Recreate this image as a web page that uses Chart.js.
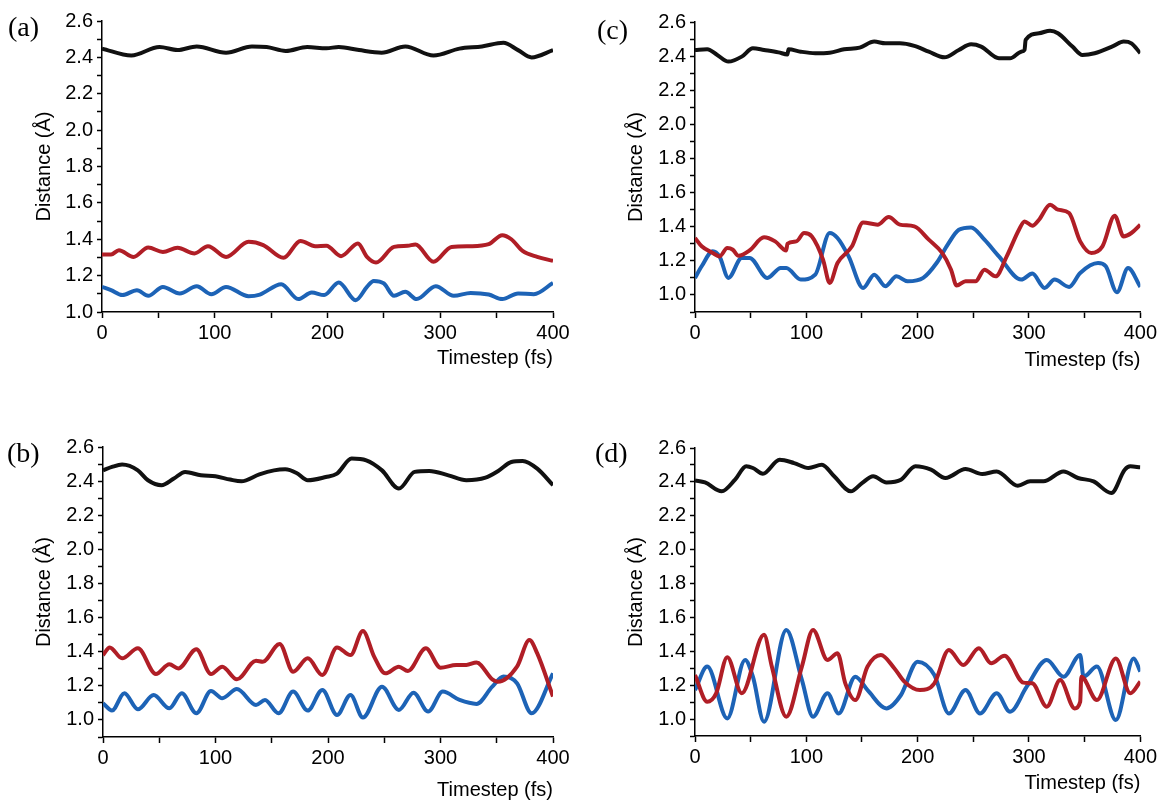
<!DOCTYPE html>
<html>
<head>
<meta charset="utf-8">
<script src="https://cdn.jsdelivr.net/npm/chart.js@4.4.1/dist/chart.umd.min.js"></script>
<style>
  body { margin: 0; background: #fff; }
  #wrap { position: relative; width: 1160px; height: 802px; background: #fff; }
  canvas { position: absolute; }
  .tag { position: absolute; font-family: "Liberation Serif", serif; font-size: 28px; line-height: 32px; color: #000; }
</style>
</head>
<body>
<div id="wrap">
  <canvas id="ga" width="580" height="400" style="left:0;top:0"></canvas>
  <canvas id="gc" width="580" height="400" style="left:580px;top:0"></canvas>
  <canvas id="gb" width="580" height="402" style="left:0;top:400px"></canvas>
  <canvas id="gd" width="580" height="402" style="left:580px;top:400px"></canvas>
  <div class="tag" style="left:8px;top:11px">(a)</div>
  <div class="tag" style="left:597px;top:14px">(c)</div>
  <div class="tag" style="left:7px;top:437px">(b)</div>
  <div class="tag" style="left:595px;top:437px">(d)</div>
</div>
<script>
// valores (tempo em fs, distância em Å)
const aBlackT = [0, 26, 51, 67, 84, 110, 133, 146, 163, 182, 199, 210, 228, 248, 269, 294, 317, 337, 356, 369, 381, 400];
const aBlackD = [2.448, 2.41, 2.457, 2.44, 2.46, 2.426, 2.46, 2.457, 2.435, 2.457, 2.45, 2.457, 2.44, 2.426, 2.46, 2.41, 2.448, 2.46, 2.48, 2.44, 2.40, 2.44];
const aRedT = [0, 8, 15, 28, 41, 54, 67, 82, 94, 110, 130, 143, 161, 176, 189, 199, 212, 227, 235, 243, 259, 271, 278, 294, 310, 327, 343, 355, 363, 373, 386, 400];
const aRedD = [1.316, 1.316, 1.34, 1.303, 1.355, 1.33, 1.353, 1.322, 1.362, 1.303, 1.386, 1.368, 1.298, 1.391, 1.362, 1.364, 1.307, 1.377, 1.303, 1.272, 1.358, 1.364, 1.371, 1.276, 1.358, 1.362, 1.373, 1.422, 1.40, 1.336, 1.303, 1.281];
const aBlueT = [0, 8, 18, 31, 41, 54, 69, 84, 97, 110, 130, 140, 159, 174, 186, 197, 210, 225, 235, 241, 250, 259, 269, 279, 296, 312, 327, 343, 355, 369, 383, 400];
const aBlueD = [1.138, 1.12, 1.093, 1.12, 1.089, 1.138, 1.102, 1.142, 1.098, 1.138, 1.087, 1.096, 1.153, 1.071, 1.107, 1.093, 1.162, 1.065, 1.138, 1.171, 1.157, 1.089, 1.111, 1.071, 1.142, 1.089, 1.105, 1.096, 1.071, 1.102, 1.098, 1.16];

const bBlackT = [0, 8, 17, 31, 40, 52, 63, 73, 87, 100, 113, 123, 139, 152, 162, 172, 182, 198, 208, 221, 234, 248, 263, 277, 290, 307, 323, 340, 351, 363, 373, 386, 400];
const bBlackD = [2.463, 2.483, 2.497, 2.463, 2.405, 2.376, 2.415, 2.454, 2.434, 2.428, 2.409, 2.399, 2.44, 2.463, 2.469, 2.448, 2.405, 2.424, 2.444, 2.532, 2.522, 2.463, 2.356, 2.454, 2.46, 2.434, 2.405, 2.42, 2.458, 2.512, 2.518, 2.473, 2.376];
const bRedT = [0, 6, 17, 31, 47, 59, 67, 83, 96, 106, 119, 136, 142, 157, 169, 182, 195, 208, 220, 231, 241, 251, 263, 271, 287, 300, 314, 323, 332, 346, 351, 368, 379, 386, 400];
const bRedD = [1.38, 1.425, 1.361, 1.42, 1.269, 1.326, 1.302, 1.414, 1.269, 1.312, 1.238, 1.347, 1.341, 1.445, 1.283, 1.361, 1.263, 1.425, 1.38, 1.521, 1.371, 1.273, 1.312, 1.287, 1.42, 1.306, 1.322, 1.322, 1.337, 1.238, 1.224, 1.312, 1.468, 1.39, 1.137];
const bBlueT = [0, 8, 19, 31, 45, 59, 70, 83, 96, 106, 119, 136, 144, 156, 169, 182, 195, 208, 220, 231, 248, 263, 276, 289, 302, 317, 332, 346, 356, 368, 381, 400];
const bBlueD = [1.098, 1.055, 1.156, 1.062, 1.146, 1.068, 1.156, 1.039, 1.17, 1.127, 1.181, 1.088, 1.117, 1.039, 1.166, 1.055, 1.176, 1.029, 1.146, 1.014, 1.195, 1.059, 1.16, 1.049, 1.166, 1.117, 1.094, 1.195, 1.254, 1.215, 1.039, 1.273];

const cBlackT = [0, 11, 20, 30, 42, 52, 62, 75, 83, 84, 95, 108, 121, 134, 148, 161, 171, 184, 197, 210, 224, 237, 248, 257, 273, 283, 293, 296, 297, 309, 319, 326, 339, 348, 359, 376, 385, 392, 400];
const cBlackD = [2.436, 2.44, 2.407, 2.368, 2.397, 2.446, 2.436, 2.422, 2.41, 2.44, 2.426, 2.417, 2.42, 2.44, 2.45, 2.485, 2.475, 2.475, 2.46, 2.426, 2.393, 2.436, 2.469, 2.456, 2.387, 2.387, 2.426, 2.436, 2.495, 2.534, 2.549, 2.534, 2.456, 2.407, 2.417, 2.46, 2.485, 2.475, 2.417];
const cRedT = [0, 6, 16, 22, 29, 34, 39, 49, 62, 72, 82, 83, 91, 98, 105, 115, 121, 128, 141, 151, 164, 174, 184, 197, 210, 222, 230, 235, 243, 252, 260, 270, 280, 291, 296, 303, 309, 319, 326, 336, 346, 356, 366, 377, 385, 392, 400];
const cRedD = [1.334, 1.285, 1.246, 1.226, 1.275, 1.265, 1.23, 1.261, 1.338, 1.314, 1.261, 1.30, 1.314, 1.363, 1.343, 1.207, 1.07, 1.187, 1.285, 1.425, 1.412, 1.457, 1.412, 1.402, 1.324, 1.246, 1.148, 1.055, 1.08, 1.08, 1.148, 1.109, 1.226, 1.382, 1.431, 1.406, 1.441, 1.529, 1.50, 1.48, 1.314, 1.246, 1.285, 1.464, 1.343, 1.363, 1.412];
const cBlueT = [0, 6, 16, 22, 30, 42, 49, 65, 77, 82, 95, 108, 121, 128, 138, 151, 161, 171, 181, 191, 205, 217, 227, 237, 248, 260, 273, 293, 303, 314, 323, 336, 346, 362, 369, 379, 389, 400];
const cBlueD = [1.10, 1.168, 1.256, 1.226, 1.10, 1.217, 1.217, 1.10, 1.158, 1.158, 1.09, 1.119, 1.363, 1.334, 1.226, 1.041, 1.119, 1.051, 1.109, 1.08, 1.10, 1.187, 1.295, 1.382, 1.396, 1.324, 1.226, 1.09, 1.125, 1.041, 1.09, 1.047, 1.129, 1.187, 1.168, 1.016, 1.158, 1.047];

const dBlackT = [0, 9, 24, 36, 46, 52, 61, 76, 89, 102, 114, 125, 140, 150, 160, 172, 185, 198, 212, 225, 243, 258, 271, 290, 301, 313, 331, 344, 358, 374, 386, 391, 400];
const dBlackD = [2.409, 2.397, 2.344, 2.413, 2.492, 2.482, 2.448, 2.531, 2.511, 2.482, 2.501, 2.433, 2.344, 2.393, 2.433, 2.397, 2.413, 2.492, 2.472, 2.423, 2.476, 2.446, 2.462, 2.377, 2.403, 2.403, 2.462, 2.423, 2.403, 2.334, 2.472, 2.492, 2.486];
const dRedT = [0, 11, 19, 29, 42, 62, 69, 82, 96, 106, 119, 128, 135, 144, 155, 167, 179, 188, 202, 215, 228, 241, 255, 266, 278, 295, 303, 316, 328, 341, 346, 347, 361, 378, 391, 400];
const dRedD = [1.26, 1.102, 1.152, 1.365, 1.152, 1.497, 1.31, 1.014, 1.31, 1.526, 1.349, 1.388, 1.211, 1.112, 1.31, 1.378, 1.30, 1.221, 1.171, 1.211, 1.408, 1.319, 1.418, 1.329, 1.374, 1.215, 1.211, 1.073, 1.23, 1.063, 1.102, 1.25, 1.112, 1.358, 1.152, 1.221];
const dBlueT = [0, 11, 29, 45, 52, 62, 82, 96, 106, 119, 129, 144, 155, 172, 185, 200, 215, 228, 243, 256, 271, 283, 298, 316, 331, 346, 349, 361, 378, 394, 400];
const dBlueD = [1.171, 1.31, 1.004, 1.349, 1.25, 0.984, 1.526, 1.231, 1.014, 1.152, 1.033, 1.25, 1.171, 1.063, 1.142, 1.339, 1.26, 1.033, 1.171, 1.033, 1.152, 1.043, 1.191, 1.349, 1.25, 1.378, 1.25, 1.31, 0.994, 1.358, 1.28];

const corPreta = '#111111';
const corVermelha = '#b01e26';
const corAzul = '#1d63b6';

const pontos = (t, d) => t.map((x, i) => ({x: x, y: d[i]}));

const serie = (t, d, cor) => ({
  data: pontos(t, d),
  borderColor: cor,
  borderWidth: 4,
  pointRadius: 0,
  cubicInterpolationMode: 'monotone',
  fill: false
});

const fonte = {family: '"Liberation Sans", Arial, sans-serif', size: 20};

const criarGrafico = (id, linhas, cfg) => {
  return new Chart(document.getElementById(id), {
    type: 'line',
    data: {datasets: linhas},
    options: {
      responsive: false,
      animation: false,
      events: [],
      layout: {padding: {left: 0, right: cfg.padDir, top: cfg.padTopo, bottom: cfg.padBase}},
      plugins: {legend: {display: false}, tooltip: {enabled: false}},
      scales: {
        x: {
          type: 'linear',
          min: 0,
          max: 400,
          afterFit: (s) => { s.height = cfg.altX; },
          border: {display: true, color: '#000', width: 1.5},
          grid: {drawOnChartArea: false, color: '#000', tickLength: 6, tickWidth: 1.5},
          ticks: {
            stepSize: 50,
            autoSkip: false,
            maxRotation: 0,
            color: '#000',
            font: fonte,
            padding: 3,
            callback: (v) => (v % 100 === 0 ? String(v) : '')
          },
          title: {display: true, text: 'Timestep (fs)', align: 'end', color: '#000', font: fonte, padding: {top: 0, bottom: cfg.tituloX}}
        },
        y: {
          min: cfg.yMin,
          max: 2.6,
          afterFit: (s) => { s.width = cfg.largY; },
          border: {display: true, color: '#000', width: 1.5},
          grid: {drawOnChartArea: false, color: '#000', tickLength: 5, tickWidth: 1.5},
          ticks: {
            stepSize: 0.1,
            autoSkip: false,
            color: '#000',
            font: fonte,
            padding: 4,
            callback: (v) => {
              const n = Math.round(v * 10);
              return (n % 2 === 0 && n >= 10) ? (n / 10).toFixed(1) : '';
            }
          },
          title: {display: true, text: 'Distance (Å)', color: '#000', font: fonte, padding: {top: cfg.tituloY, bottom: 0}}
        }
      }
    }
  });
};

criarGrafico('ga', [
  serie(aBlackT, aBlackD, corPreta),
  serie(aRedT, aRedD, corVermelha),
  serie(aBlueT, aBlueD, corAzul)
], {yMin: 1.0, largY: 102, altX: 60, padDir: 27, padTopo: 21, padBase: 28, tituloX: 2, tituloY: 32});

criarGrafico('gc', [
  serie(cBlackT, cBlackD, corPreta),
  serie(cRedT, cRedD, corVermelha),
  serie(cBlueT, cBlueD, corAzul)
], {yMin: 0.9, largY: 115, altX: 60, padDir: 17, padTopo: 22, padBase: 28, tituloX: 0, tituloY: 44});

criarGrafico('gb', [
  serie(bBlackT, bBlackD, corPreta),
  serie(bRedT, bRedD, corVermelha),
  serie(bBlueT, bBlueD, corAzul)
], {yMin: 0.9, largY: 103, altX: 65, padDir: 27, padTopo: 47, padBase: 0, tituloX: 0, tituloY: 32});

criarGrafico('gd', [
  serie(dBlackT, dBlackD, corPreta),
  serie(dRedT, dRedD, corVermelha),
  serie(dBlueT, dBlueD, corAzul)
], {yMin: 0.9, largY: 115, altX: 59, padDir: 18, padTopo: 48, padBase: 7, tituloX: 0, tituloY: 44});
</script>
</body>
</html>
